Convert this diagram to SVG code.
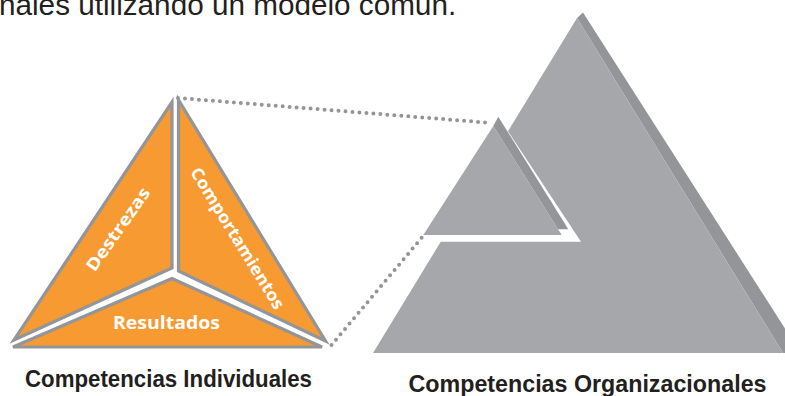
<svg xmlns="http://www.w3.org/2000/svg" width="785" height="396" viewBox="0 0 785 396">
<style>
.piece{fill:#f79a31;stroke:#939598;stroke-width:3.2;stroke-linejoin:miter}
.lbl{fill:#ffffff;font-family:"Open Sans","DejaVu Sans",sans-serif;font-weight:700;font-size:17px;text-anchor:middle}
.cap{fill:#231f20;font-family:"Liberation Sans",Arial,sans-serif;font-weight:700;font-size:24.5px}
.dots{fill:none;stroke:#939598;stroke-width:4;stroke-linecap:round;stroke-dasharray:0 7}
.g-main{fill:#a6a7aa}
.g-shadow{fill:#939598}
</style>
<rect x="0" y="0" width="785" height="396" fill="#ffffff"/>
<text x="-1" y="15" font-family="Liberation Sans, Arial, sans-serif" font-size="29.7" fill="#231f20">nales utilizando un modelo común.</text>

<g id="organizacional">
  <polygon class="g-shadow" points="583,12.5 800,352 783,353 577,18"/>
  <polygon class="g-main" points="577,18 373,353 783,353"/>
  <polygon fill="#ffffff" points="490,104 581,241.7 400,241.7"/>
</g>
<g id="individual-en-org">
  <polygon class="g-shadow" points="498.3,116.7 568.3,229.3 558,229.3 493.3,126"/>
  <polygon class="g-main" points="493.3,126 423.3,235 561.7,235"/>
</g>

<g id="individual">
  <g id="destrezas">
    <polygon class="piece" points="172,102 172,268 14,340"/>
    <text class="lbl" transform="translate(117.5,229) rotate(-55)" dominant-baseline="central" textLength="98" lengthAdjust="spacingAndGlyphs">Destrezas</text>
  </g>
  <g id="comportamientos">
    <polygon class="piece" points="178.5,100 178.5,271 325.5,341"/>
    <text class="lbl" transform="translate(238,238) rotate(58.3)" dominant-baseline="central" textLength="163" lengthAdjust="spacingAndGlyphs">Comportamientos</text>
  </g>
  <g id="resultados">
    <polygon class="piece" points="172,278.5 13,347 322,347"/>
    <text class="lbl" x="166.5" y="329" textLength="107" lengthAdjust="spacingAndGlyphs">Resultados</text>
  </g>
</g>

<g id="connectors">
  <line class="dots" x1="178" y1="98" x2="492" y2="123"/>
  <line class="dots" x1="331.5" y1="345" x2="424" y2="235"/>
</g>

<g id="labels">
  <text class="cap" x="25" y="386.5" textLength="287" lengthAdjust="spacingAndGlyphs">Competencias Individuales</text>
  <text class="cap" x="408.5" y="392" textLength="358" lengthAdjust="spacingAndGlyphs">Competencias Organizacionales</text>
</g>
</svg>
